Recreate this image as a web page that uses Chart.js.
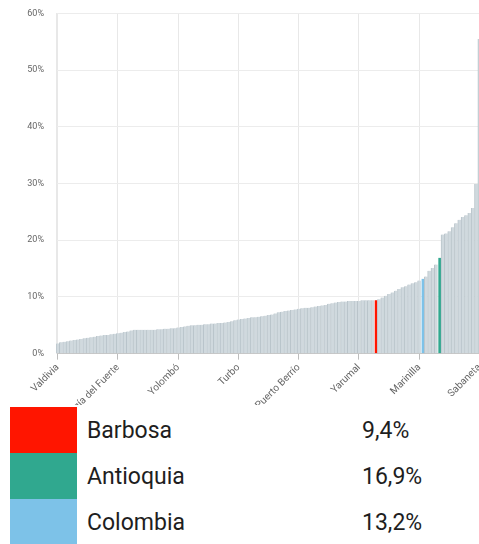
<!DOCTYPE html>
<html>
<head>
<meta charset="utf-8">
<script src="https://cdn.jsdelivr.net/npm/chart.js@4.4.1/dist/chart.umd.min.js"></script>
<style>
  html, body { margin: 0; padding: 0; background: #fff; width: 479px; height: 544px; overflow: hidden; font-family: Roboto, "Noto Sans", sans-serif; }
  #plot { position: relative; width: 479px; height: 405px; overflow: hidden; }
  #plot canvas { position: absolute; left: 0; top: -4px; }
  #key { border-collapse: collapse; margin: 2px 0 0 10px; }
  #key td { height: 46px; padding: 0; font-size: 23px; color: #1e1e1e; vertical-align: middle; }
  #key td.sw { width: 67px; }
  #key td.nm { width: 275px; padding-left: 10px; }
</style>
</head>
<body>
<div id="plot"><canvas id="c" width="490" height="425"></canvas></div>
<table id="key"></table>
<script>
// Share per municipality (%), sorted ascending; Antioquia and Colombia sit among them
const values = [
  1.8, 2.0, 2.1, 2.2, 2.3, 2.4, 2.5, 2.6, 2.7, 2.8, 2.9, 3.0, 3.1,
  3.2, 3.3, 3.3, 3.4, 3.5, 3.6, 3.7, 3.8, 3.9, 4.1, 4.2, 4.2, 4.2, 4.2, 4.2, 4.2, 4.2,
  4.3, 4.3, 4.4, 4.4, 4.5, 4.5, 4.6, 4.7, 4.8, 4.9, 5.0, 5.0, 5.1, 5.1, 5.2, 5.2, 5.3, 5.3, 5.4, 5.4,
  5.5, 5.6, 5.7, 5.9, 6.0, 6.1, 6.2, 6.3, 6.4, 6.4, 6.5, 6.6, 6.7, 6.8, 6.9, 7.1, 7.3, 7.4, 7.5, 7.6, 7.7, 7.8, 7.9, 8.0, 8.1,
  8.1, 8.2, 8.3, 8.4, 8.5, 8.6, 8.8, 8.9, 9.0, 9.1, 9.2, 9.2, 9.3, 9.3, 9.3, 9.3, 9.4, 9.4, 9.4, 9.4, 9.4,
  9.6, 9.9, 10.2, 10.5, 10.8, 11.1, 11.4, 11.7, 11.9, 12.2, 12.4, 12.6, 12.9, 13.2, 13.6, 14.6, 15.1, 15.7, 16.9,
  21.0, 21.2, 21.6, 22.3, 23.0, 23.6, 24.1, 24.4, 24.8, 25.7, 29.9, 55.5
];

// Named bars (position in the sorted list and name)
const namedIndex = [0, 18, 36, 54, 72, 90, 95, 108, 109, 114, 126];
const namedLabels = ['Valdivia', 'Vigía del Fuerte', 'Yolombó', 'Turbo', 'Puerto Berrío', 'Yarumal',
                     'Barbosa', 'Marinilla', 'Colombia', 'Antioquia', 'Sabaneta'];

// Highlighted bars and their colours
const highlightNames = ['Barbosa', 'Antioquia', 'Colombia'];
const highlightColors = ['#ff1500', '#30a88f', '#7dc2e8'];

const yTicks = [0, 10, 20, 30, 40, 50, 60];
const labelStep = 18;

const categories = values.map((v, i) => {
  const k = namedIndex.indexOf(i);
  return k < 0 ? '' : namedLabels[k];
});

const barFill = categories.map(name => {
  const h = highlightNames.indexOf(name);
  return h < 0 ? '#d0d9de' : highlightColors[h];
});
const barEdge = categories.map(name => highlightNames.indexOf(name) < 0 ? '#b9c4ca' : 'rgba(0,0,0,0)');

new Chart(document.getElementById('c'), {
  type: 'bar',
  data: {
    labels: categories,
    datasets: [{
      data: values,
      backgroundColor: barFill,
      borderColor: barEdge,
      borderWidth: { left: 1, right: 0, top: 0, bottom: 0 },
      borderSkipped: false,
      barPercentage: 1,
      categoryPercentage: 1
    }]
  },
  options: {
    responsive: false,
    animation: false,
    layout: { padding: { top: 4, left: 0, right: 0, bottom: 0 } },
    plugins: { legend: { display: false }, tooltip: { enabled: false } },
    scales: {
      x: {
        grid: {
          offset: false,
          color: ctx => (ctx.index % labelStep === 0 ? '#e8e8e8' : 'rgba(0,0,0,0)'),
          tickColor: ctx => (ctx.index % labelStep === 0 ? '#bdbdbd' : 'rgba(0,0,0,0)'),
          tickLength: 6
        },
        border: { color: '#c6c6c6' },
        ticks: {
          autoSkip: false,
          minRotation: 45,
          maxRotation: 45,
          padding: 2,
          color: '#666',
          font: { family: 'Roboto', size: 10 },
          callback: (v, i) => (i % labelStep === 0 ? categories[i] : '')
        }
      },
      y: {
        min: yTicks[0],
        max: yTicks[yTicks.length - 1],
        afterBuildTicks: scale => { scale.ticks = yTicks.map(v => ({ value: v })); },
        afterFit: scale => { scale.width = 56; },
        grid: { color: '#ececec', drawTicks: false },
        border: { color: '#e8e8e8' },
        ticks: {
          padding: 12,
          color: '#666',
          font: { family: 'Roboto', size: 9 },
          callback: v => v + '%'
        }
      }
    }
  }
});

// Key below the plot: colour, name and the value of that bar
const key = document.getElementById('key');
highlightNames.forEach((name, h) => {
  const v = values[categories.indexOf(name)];
  const row = key.insertRow();
  const sw = row.insertCell(); sw.className = 'sw'; sw.style.background = highlightColors[h];
  const nm = row.insertCell(); nm.className = 'nm'; nm.textContent = name;
  const val = row.insertCell(); val.textContent = v.toFixed(1).replace('.', ',') + '%';
});
</script>
</body>
</html>
